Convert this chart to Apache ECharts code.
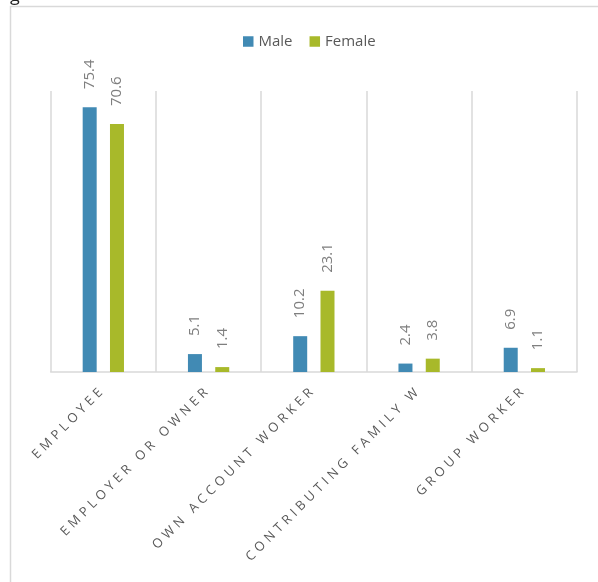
<!DOCTYPE html>
<html>
<head>
<meta charset="utf-8">
<script src="https://cdn.jsdelivr.net/npm/echarts@6/dist/echarts.min.js"></script>
<style>
html,body{margin:0;padding:0;background:#fff;}
#chart{width:598px;height:582px;}
</style>
</head>
<body>
<div id="chart"></div>
<script>
// Data
var categories = ['EMPLOYEE', 'EMPLOYER OR OWNER', 'OWN ACCOUNT WORKER', 'CONTRIBUTING FAMILY W', 'GROUP WORKER'];
var seriesNames = ['Male', 'Female'];
var maleValues = [75.4, 5.1, 10.2, 2.4, 6.9];
var femaleValues = [70.6, 1.4, 23.1, 3.8, 1.1];

// Letter spacing for the category labels (spaced look of the original)
(function () {
  var proto = window.CanvasRenderingContext2D && CanvasRenderingContext2D.prototype;
  if (!proto || !('letterSpacing' in proto)) return;
  var desc = Object.getOwnPropertyDescriptor(proto, 'font');
  if (!desc || !desc.set) return;
  Object.defineProperty(proto, 'font', {
    configurable: true,
    enumerable: desc.enumerable,
    get: function () { return desc.get.call(this); },
    set: function (v) {
      desc.set.call(this, v);
      try { this.letterSpacing = /Carlito/.test(v) ? '4px' : '0px'; } catch (e) {}
    }
  });
})();

var chart = echarts.init(document.getElementById('chart'), null, { renderer: 'canvas' });

var labelStyle = {
  show: true,
  position: 'top',
  distance: 18,
  rotate: 90,
  align: 'left',
  verticalAlign: 'middle',
  color: '#7f7f7f',
  fontSize: 15,
  fontFamily: '"Open Sans"'
};

chart.setOption({
  animation: false,
  backgroundColor: '#ffffff',
  color: ['#418ab4', '#a8b92a'],
  graphic: [
    {
      type: 'rect',
      shape: { x: 10.5, y: 6.5, width: 700, height: 700 },
      style: { fill: 'none', stroke: '#d9d9d9', lineWidth: 1.5 },
      silent: true
    },
    {
      type: 'text',
      x: 10,
      y: 5,
      style: { text: 'g', fill: '#222', font: '18px "Open Sans"', textVerticalAlign: 'bottom' },
      silent: true
    }
  ],
  legend: {
    data: seriesNames,
    left: 243,
    top: 34,
    padding: 0,
    icon: 'rect',
    itemWidth: 10.5,
    itemHeight: 10.5,
    itemGap: 17,
    textStyle: { color: '#595959', fontSize: 15, fontFamily: '"Open Sans"' }
  },
  grid: {
    left: 50.7,
    right: 21,
    top: 91,
    bottom: 210,
    outerBoundsMode: 'none'
  },
  xAxis: {
    type: 'category',
    data: categories,
    axisLine: { show: true, lineStyle: { color: '#d9d9d9', width: 1.5 } },
    axisTick: { show: false },
    splitLine: { show: true, lineStyle: { color: '#d9d9d9', width: 1.5 } },
    axisLabel: {
      interval: 0,
      rotate: 45,
      margin: 16,
      color: '#595959',
      fontSize: 13,
      fontFamily: '"Open Sans", Carlito'
    }
  },
  yAxis: {
    type: 'value',
    min: 0,
    max: 80,
    interval: 10,
    show: false,
    splitLine: { show: false }
  },
  series: [
    {
      name: seriesNames[0],
      type: 'bar',
      data: maleValues,
      barWidth: 14,
      barGap: '95%',
      label: labelStyle
    },
    {
      name: seriesNames[1],
      type: 'bar',
      data: femaleValues,
      barWidth: 14,
      barGap: '95%',
      label: labelStyle
    }
  ]
});
</script>
</body>
</html>
